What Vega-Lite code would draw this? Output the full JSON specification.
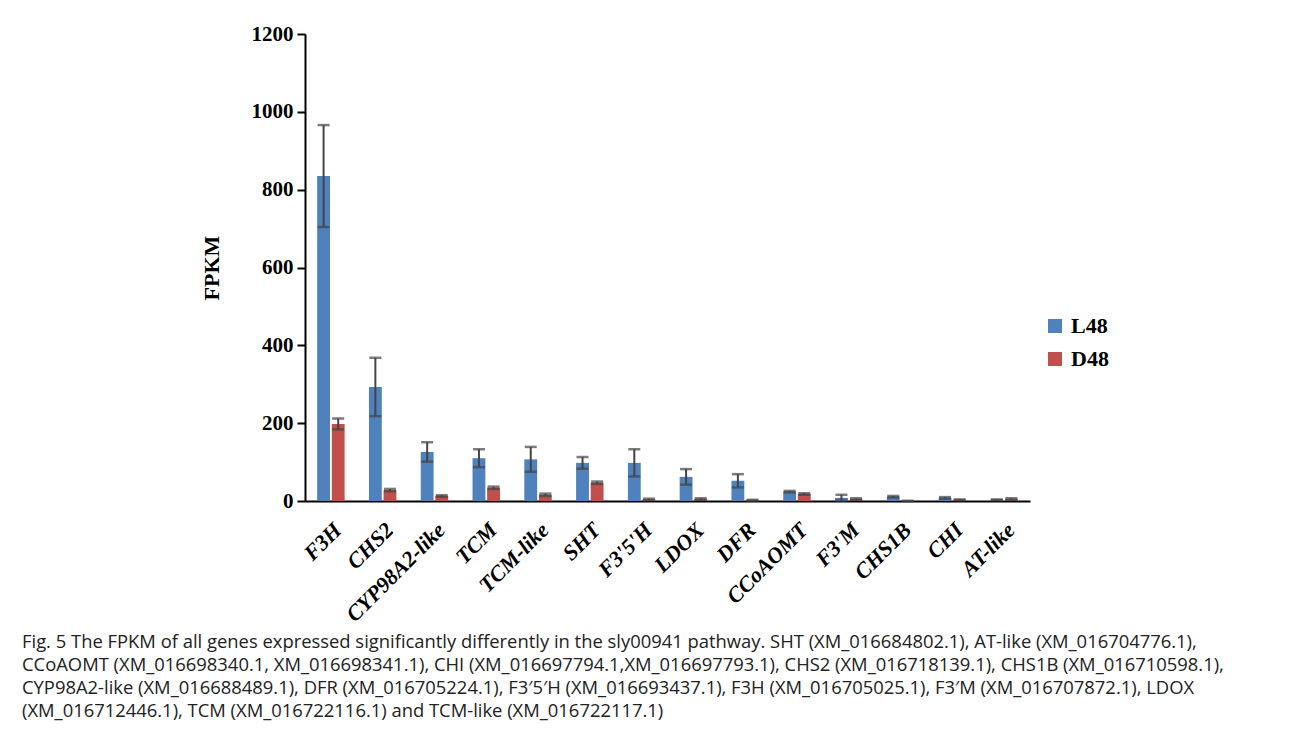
{
  "$schema": "https://vega.github.io/schema/vega-lite/v6.json",
  "autosize": {"type": "none"},
  "padding": {"left": 305, "top": 34, "right": 262, "bottom": 244},
  "width": 725,
  "height": 467,
  "background": "white",
  "config": {"view": {"stroke": null}},
  "title": {
    "text": [
      "Fig. 5  The FPKM of all genes expressed significantly differently in the sly00941 pathway. SHT (XM_016684802.1), AT-like (XM_016704776.1),",
      "CCoAOMT (XM_016698340.1, XM_016698341.1), CHI (XM_016697794.1,XM_016697793.1), CHS2 (XM_016718139.1), CHS1B (XM_016710598.1),",
      "CYP98A2-like (XM_016688489.1), DFR (XM_016705224.1), F3′5′H (XM_016693437.1), F3H (XM_016705025.1), F3′M (XM_016707872.1), LDOX",
      "(XM_016712446.1), TCM (XM_016722116.1) and TCM-like (XM_016722117.1)"
    ],
    "orient": "bottom",
    "anchor": "start",
    "frame": "group",
    "dx": -283,
    "offset": 8,
    "font": "Open Sans",
    "fontSize": 18.4,
    "fontWeight": "normal",
    "lineHeight": 23,
    "color": "#222222",
    "baseline": "top"
  },
  "data": {
    "values": [
      {"gene": "F3H", "group": "L48", "value": 835, "lo": 704, "hi": 966},
      {"gene": "F3H", "group": "D48", "value": 198, "lo": 184, "hi": 212},
      {"gene": "CHS2", "group": "L48", "value": 293, "lo": 218, "hi": 368},
      {"gene": "CHS2", "group": "D48", "value": 28, "lo": 25, "hi": 31},
      {"gene": "CYP98A2-like", "group": "L48", "value": 126, "lo": 101, "hi": 151},
      {"gene": "CYP98A2-like", "group": "D48", "value": 13, "lo": 11, "hi": 15},
      {"gene": "TCM", "group": "L48", "value": 110, "lo": 87, "hi": 133},
      {"gene": "TCM", "group": "D48", "value": 34, "lo": 31, "hi": 37},
      {"gene": "TCM-like", "group": "L48", "value": 107, "lo": 75, "hi": 139},
      {"gene": "TCM-like", "group": "D48", "value": 16, "lo": 13, "hi": 19},
      {"gene": "SHT", "group": "L48", "value": 98, "lo": 83, "hi": 113},
      {"gene": "SHT", "group": "D48", "value": 47, "lo": 44, "hi": 50},
      {"gene": "F3'5'H", "group": "L48", "value": 98, "lo": 63, "hi": 133},
      {"gene": "F3'5'H", "group": "D48", "value": 4, "lo": 2, "hi": 6},
      {"gene": "LDOX", "group": "L48", "value": 62, "lo": 42, "hi": 82},
      {"gene": "LDOX", "group": "D48", "value": 5, "lo": 3, "hi": 7},
      {"gene": "DFR", "group": "L48", "value": 52, "lo": 35, "hi": 69},
      {"gene": "DFR", "group": "D48", "value": 2, "lo": 1, "hi": 3},
      {"gene": "CCoAOMT", "group": "L48", "value": 24, "lo": 22, "hi": 26},
      {"gene": "CCoAOMT", "group": "D48", "value": 18, "lo": 16, "hi": 20},
      {"gene": "F3'M", "group": "L48", "value": 8, "lo": 1, "hi": 16},
      {"gene": "F3'M", "group": "D48", "value": 5, "lo": 3, "hi": 7},
      {"gene": "CHS1B", "group": "L48", "value": 11, "lo": 9, "hi": 13},
      {"gene": "CHS1B", "group": "D48", "value": 0, "lo": 0, "hi": 0},
      {"gene": "CHI", "group": "L48", "value": 8, "lo": 6, "hi": 10},
      {"gene": "CHI", "group": "D48", "value": 3, "lo": 2, "hi": 4},
      {"gene": "AT-like", "group": "L48", "value": 3, "lo": 2, "hi": 4},
      {"gene": "AT-like", "group": "D48", "value": 5, "lo": 3, "hi": 7}
    ]
  },
  "encoding": {
    "x": {
      "field": "gene",
      "type": "nominal",
      "sort": null,
      "scale": {"paddingInner": 0.47, "paddingOuter": 0.235},
      "axis": {
        "title": null,
        "labelAngle": -45,
        "labelAlign": "right",
        "labelBaseline": "top",
        "labelFont": "Liberation Serif",
        "labelFontStyle": "italic",
        "labelFontWeight": "bold",
        "labelFontSize": 22,
        "labelColor": "black",
        "labelPadding": 18,
        "ticks": false,
        "domainColor": "black",
        "domainWidth": 2
      }
    },
    "xOffset": {
      "field": "group",
      "type": "nominal",
      "sort": ["L48", "D48"],
      "scale": {"paddingInner": 0.12}
    }
  },
  "layer": [
    {
      "mark": {"type": "bar"},
      "encoding": {
        "y": {
          "field": "value",
          "type": "quantitative",
          "scale": {"domain": [0, 1200]},
          "axis": {
            "title": "FPKM",
            "titleFont": "Liberation Serif",
            "titleFontWeight": "bold",
            "titleFontSize": 22,
            "titleColor": "black",
            "titlePadding": 28,
            "format": "d",
            "values": [0, 200, 400, 600, 800, 1000, 1200],
            "grid": false,
            "labelFont": "Liberation Serif",
            "labelFontWeight": "bold",
            "labelFontSize": 21,
            "labelColor": "black",
            "labelPadding": 4,
            "tickColor": "black",
            "tickWidth": 2,
            "tickSize": 8,
            "domainColor": "black",
            "domainWidth": 2
          }
        },
        "color": {
          "field": "group",
          "type": "nominal",
          "sort": ["L48", "D48"],
          "scale": {"domain": ["L48", "D48"], "range": ["#4F81BD", "#C0504D"]},
          "legend": {
            "title": null,
            "orient": "none",
            "legendX": 739,
            "legendY": 281,
            "symbolType": "square",
            "symbolSize": 196,
            "symbolStrokeWidth": 0,
            "labelFont": "Liberation Serif",
            "labelFontWeight": "bold",
            "labelFontSize": 22,
            "labelColor": "black",
            "rowPadding": 11,
            "labelOffset": 5
          }
        }
      }
    },
    {
      "mark": {"type": "rule", "color": "#444444", "strokeWidth": 2},
      "encoding": {
        "y": {"field": "lo", "type": "quantitative"},
        "y2": {"field": "hi"}
      }
    },
    {
      "mark": {"type": "tick", "color": "#444444", "thickness": 2.5, "size": 12},
      "encoding": {
        "y": {"field": "hi", "type": "quantitative"}
      }
    },
    {
      "mark": {"type": "tick", "color": "#444444", "thickness": 2.5, "size": 12},
      "encoding": {
        "y": {"field": "lo", "type": "quantitative"}
      }
    }
  ]
}
